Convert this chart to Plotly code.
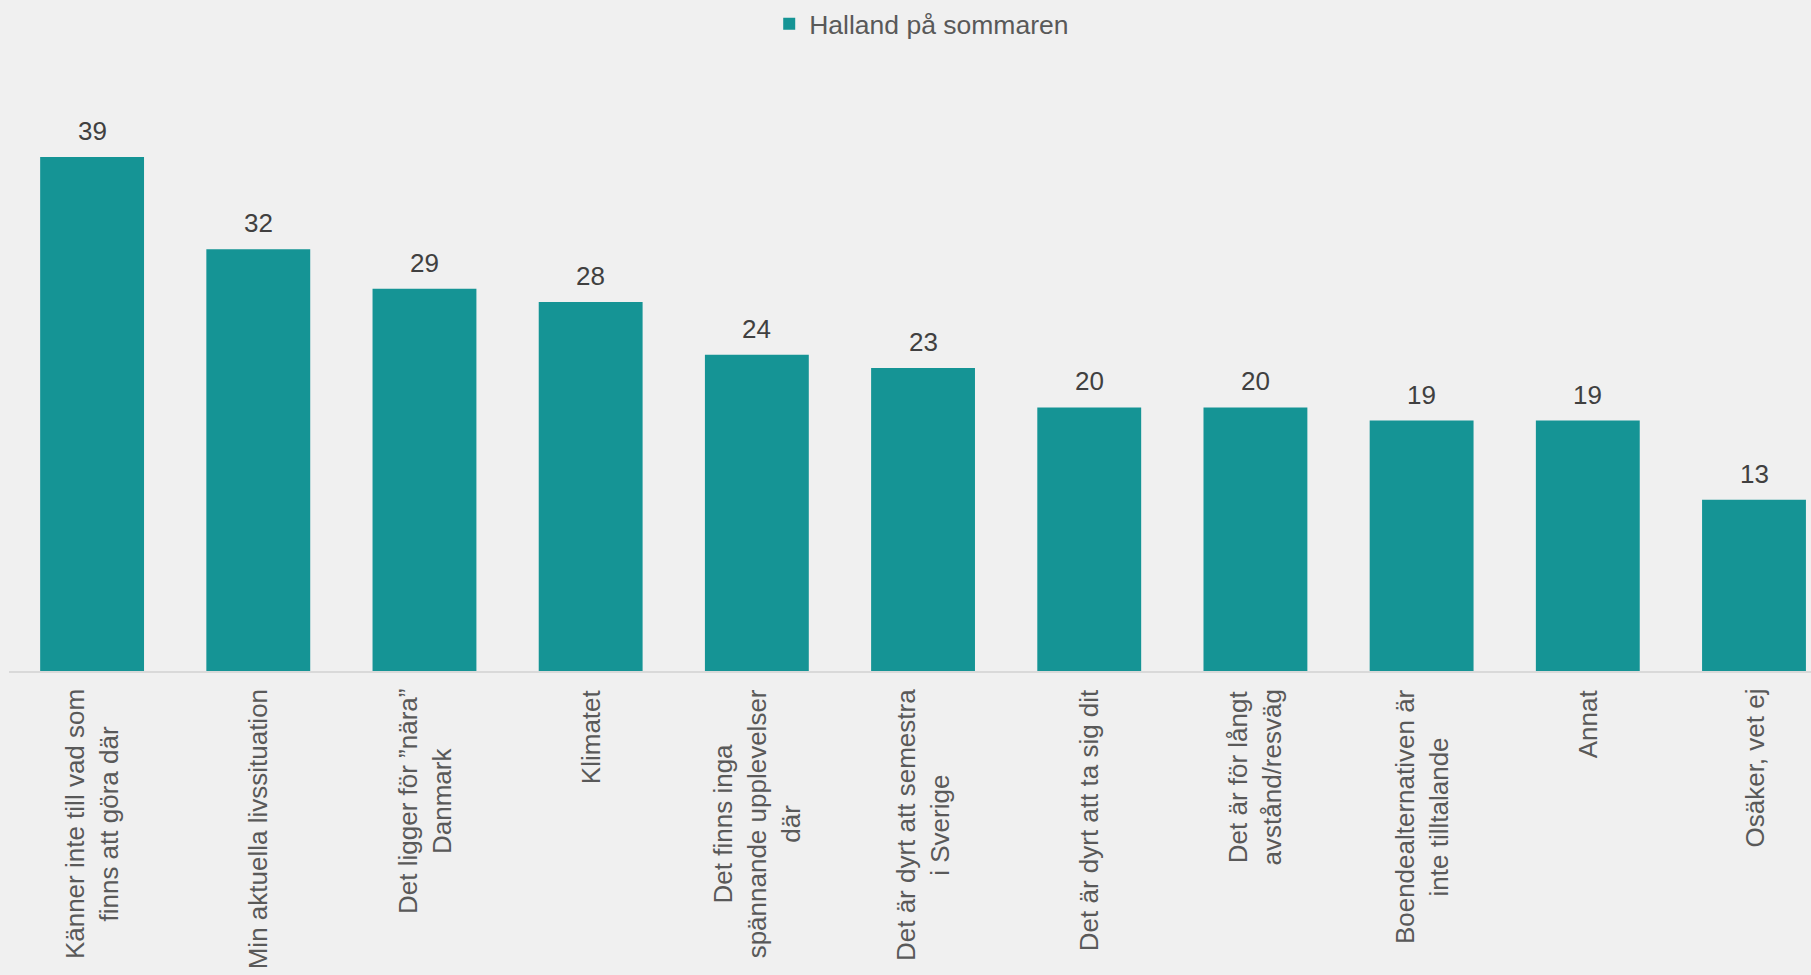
import plotly.graph_objects as go

# Reasons for not visiting Halland in summer (share of respondents, %)
categories = [
    "Känner inte till vad som<br>finns att göra där",
    "Min aktuella livssituation",
    "Det ligger för ”nära”<br>Danmark",
    "Klimatet",
    "Det finns inga<br>spännande upplevelser<br>där",
    "Det är dyrt att semestra<br>i Sverige",
    "Det är dyrt att ta sig dit",
    "Det är för långt<br>avstånd/resväg",
    "Boendealternativen är<br>inte tilltalande",
    "Annat",
    "Osäker, vet ej",
]
values = [39, 32, 29, 28, 24, 23, 20, 20, 19, 19, 13]
series_name = "Halland på sommaren"

BAR_COLOR = "#159495"
BG = "#F0F0F0"
FONT = "Arial, Liberation Sans, sans-serif"

fig = go.Figure()
fig.add_trace(go.Bar(
    x=categories,
    y=values,
    name=series_name,
    marker=dict(color=BAR_COLOR, line=dict(width=0)),
    width=0.625,
    cliponaxis=False,
    showlegend=True,
))

# Value labels above each bar
for cat, v in zip(categories, values):
    fig.add_annotation(
        x=cat, xref="x",
        y=v, yref="y",
        yanchor="bottom", xanchor="center",
        yshift=9,
        text=str(v),
        showarrow=False,
        font=dict(family=FONT, size=26, color="#404040"),
    )

# Rotated category labels with centred lines under each bar
for cat in categories:
    fig.add_annotation(
        x=cat, xref="x",
        y=0, yref="paper",
        yanchor="top", xanchor="center",
        yshift=-16,
        text=cat,
        textangle=-90,
        align="center",
        showarrow=False,
        font=dict(family=FONT, size=26, color="#595959"),
    )

fig.update_layout(
    width=1811,
    height=975,
    paper_bgcolor=BG,
    plot_bgcolor=BG,
    margin=dict(l=9, r=0, t=60, b=304),
    font=dict(family=FONT, size=26, color="#595959"),
    showlegend=True,
    legend=dict(
        orientation="h",
        x=0.5065, xanchor="center",
        y=1.0605, yanchor="middle",
        font=dict(family=FONT, size=26.5, color="#595959"),
        bgcolor="rgba(0,0,0,0)",
        itemclick=False,
    ),
    xaxis=dict(
        type="category",
        range=[-0.5, 10.343],
        showticklabels=False,
        showgrid=False,
        zeroline=False,
        showline=True,
        linecolor="#D9D9D9",
        linewidth=2,
        ticks="",
        fixedrange=True,
    ),
    yaxis=dict(
        range=[0, 46.29],
        visible=False,
        showgrid=False,
        zeroline=False,
        fixedrange=True,
    ),
)

fig.write_html("out.html")
